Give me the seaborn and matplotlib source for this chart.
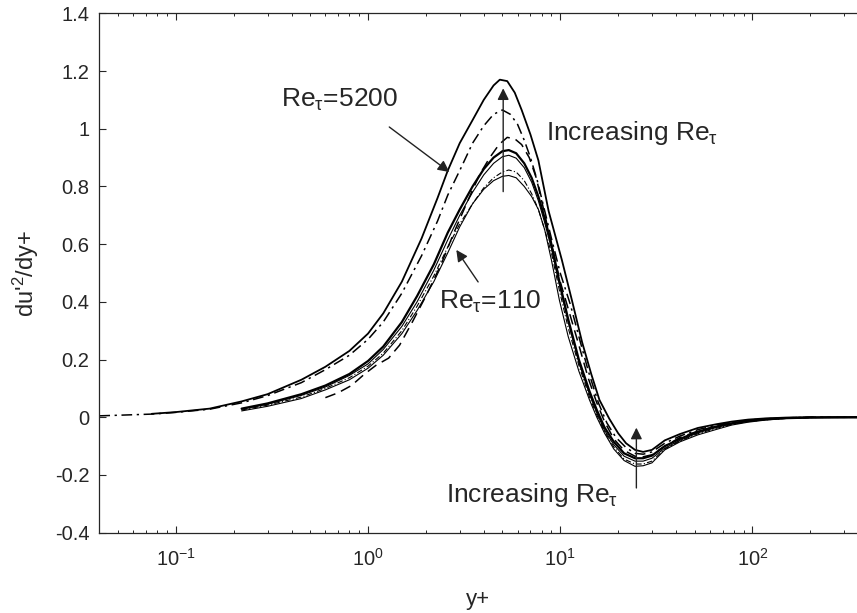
import numpy as np
import pandas as pd
import matplotlib
matplotlib.use("Agg")
import matplotlib.pyplot as plt
import seaborn as sns
from matplotlib.ticker import FixedLocator, FuncFormatter, LogLocator, NullFormatter

# ---------------- data ----------------
# Re_tau = 5200 (outer solid)
xA = [0.075, 0.1, 0.15, 0.22, 0.3, 0.45, 0.6, 0.8, 1.0, 1.2, 1.5, 1.9, 2.3, 2.6, 3.0, 3.5, 4.0, 4.5,
      4.85, 5.3, 5.8, 6.3, 7.0, 7.7, 8.7, 10.2, 11.5, 13, 14.5, 16, 18, 20, 22, 24.5, 27, 30, 35, 42,
      52, 65, 78, 95, 116, 150, 200, 350]
yA = [0.012, 0.018, 0.03, 0.055, 0.08, 0.13, 0.175, 0.23, 0.29, 0.36, 0.47, 0.62, 0.76, 0.855, 0.95,
      1.03, 1.1, 1.15, 1.17, 1.165, 1.125, 1.065, 0.98, 0.89, 0.715, 0.545, 0.406, 0.26, 0.15, 0.06,
      -0.005, -0.055, -0.09, -0.113, -0.12, -0.113, -0.08, -0.058, -0.037, -0.024, -0.015, -0.008,
      -0.004, -0.001, 0.0, 0.0]

# dash-dot, second highest
xB = [0.04, 0.05, 0.075, 0.1, 0.15, 0.22, 0.3, 0.45, 0.6, 0.8, 1.0, 1.2, 1.5, 1.9, 2.3, 2.6, 3.06,
      3.5, 4.0, 4.5, 5.0, 5.5, 6.0, 6.5, 7.0, 7.6, 8.2, 9.0, 10.0, 11.3, 12.5, 14, 15.8, 17.5, 19.5,
      22, 24.5, 27, 30, 35, 42, 52, 65, 78, 95, 116, 150, 200, 350]
yB = [0.005, 0.007, 0.011, 0.017, 0.028, 0.05, 0.075, 0.12, 0.165, 0.215, 0.27, 0.33, 0.43, 0.56,
      0.68, 0.77, 0.867, 0.95, 1.01, 1.05, 1.065, 1.05, 1.015, 0.96, 0.9, 0.82, 0.73, 0.62, 0.5, 0.39,
      0.28, 0.16, 0.05, -0.02, -0.07, -0.105, -0.125, -0.128, -0.12, -0.09, -0.065, -0.043, -0.027,
      -0.017, -0.01, -0.005, -0.002, 0.0, 0.0]

# long dash
xC = [0.6, 0.7, 0.82, 0.96, 1.1, 1.28, 1.46, 1.7, 2.0, 2.4, 2.8, 3.3, 3.8, 4.3, 4.8, 5.3, 5.8, 6.3,
      6.9, 7.5, 8.2, 9.0, 10.0, 11.3, 12.5, 14, 15.5, 17, 19, 21.5, 24.5, 27, 30, 35, 42, 52, 65, 78,
      95, 116, 150, 200, 350]
yC = [0.068, 0.085, 0.11, 0.15, 0.18, 0.205, 0.25, 0.33, 0.42, 0.53, 0.64, 0.75, 0.84, 0.9, 0.945,
      0.97, 0.965, 0.945, 0.9, 0.83, 0.72, 0.6, 0.47, 0.35, 0.25, 0.135, 0.05, -0.015, -0.075, -0.115,
      -0.135, -0.137, -0.13, -0.1, -0.07, -0.048, -0.03, -0.02, -0.012, -0.006, -0.002, 0.0, 0.0]

# lower group: shared y+ grid
xL = [0.22, 0.3, 0.45, 0.6, 0.8, 1.0, 1.2, 1.5, 1.8, 2.2, 2.6, 3.0, 3.5, 4.0, 4.5, 5.0, 5.4, 5.9,
      6.5, 7.1, 7.7, 8.3, 9.0, 9.9, 11, 12.5, 14.2, 15.5, 17, 19, 21.5, 24.5, 27, 30, 35, 42, 52, 65,
      78, 95, 116, 150, 200, 350]
# thick solid
yD = [0.03, 0.048, 0.08, 0.11, 0.15, 0.195, 0.245, 0.33, 0.42, 0.53, 0.64, 0.72, 0.8, 0.86, 0.9,
      0.922, 0.926, 0.915, 0.88, 0.83, 0.765, 0.69, 0.6, 0.47, 0.34, 0.2, 0.09, 0.025, -0.035, -0.085,
      -0.125, -0.142, -0.142, -0.133, -0.1, -0.075, -0.05, -0.032, -0.021, -0.013, -0.007, -0.003,
      -0.001, 0.0]
# thin solid
yE = [0.028, 0.045, 0.076, 0.105, 0.145, 0.185, 0.235, 0.315, 0.4, 0.51, 0.615, 0.7, 0.78, 0.84,
      0.88, 0.903, 0.908, 0.898, 0.865, 0.815, 0.75, 0.675, 0.585, 0.46, 0.33, 0.19, 0.08, 0.015,
      -0.045, -0.095, -0.135, -0.152, -0.152, -0.142, -0.107, -0.08, -0.054, -0.035, -0.023, -0.014,
      -0.008, -0.003, -0.001, 0.0]
# thin dash-dot
yF = [0.025, 0.042, 0.07, 0.1, 0.137, 0.177, 0.222, 0.3, 0.385, 0.49, 0.59, 0.67, 0.74, 0.795,
      0.83, 0.85, 0.857, 0.85, 0.82, 0.775, 0.72, 0.65, 0.57, 0.44, 0.31, 0.18, 0.07, 0.008, -0.05,
      -0.103, -0.145, -0.162, -0.162, -0.152, -0.11, -0.082, -0.057, -0.038, -0.025, -0.015, -0.009,
      -0.004, -0.001, 0.0]
# Re_tau = 110 (lowest thin solid)
yG = [0.022, 0.038, 0.065, 0.095, 0.13, 0.17, 0.215, 0.29, 0.37, 0.47, 0.57, 0.66, 0.74, 0.79,
      0.82, 0.835, 0.838, 0.83, 0.8, 0.765, 0.72, 0.65, 0.545, 0.406, 0.28, 0.16, 0.06, 0.0, -0.055,
      -0.11, -0.15, -0.17, -0.168, -0.158, -0.113, -0.085, -0.061, -0.042, -0.027, -0.017, -0.01,
      -0.004, -0.001, 0.0]

yticks = [-0.4, -0.2, 0, 0.2, 0.4, 0.6, 0.8, 1, 1.2, 1.4]
xticks = [0.1, 1, 10, 100]

series = [
    ("A", xA, yA, dict(lw=1.3, ls="-")),
    ("B", xB, yB, dict(lw=1.1, ls=(0, (7, 3, 1.5, 3)))),
    ("C", xC, yC, dict(lw=1.1, ls=(0, (7, 4)))),
    ("D", xL, yD, dict(lw=1.6, ls="-")),
    ("E", xL, yE, dict(lw=0.8, ls="-")),
    ("F", xL, yF, dict(lw=0.8, ls=(0, (5, 2, 1, 2)))),
    ("G", xL, yG, dict(lw=0.8, ls="-")),
]

# ---------------- style ----------------
sns.set_theme(style="ticks")
plt.rcParams["font.family"] = ["Liberation Sans", "DejaVu Sans"]
plt.rcParams["mathtext.default"] = "regular"
plt.rcParams["axes.unicode_minus"] = False
GREY = "#262626"

fig = plt.figure(figsize=(8.57, 6.13), dpi=100)
ax = fig.add_axes([0.1159, 0.131, 0.8841, 0.8473])

for name, xs, ys, st in series:
    df = pd.DataFrame({"yplus": xs, "val": ys})
    sns.lineplot(data=df, x="yplus", y="val", ax=ax, color="black", linewidth=st["lw"],
                 linestyle=st["ls"], estimator=None, sort=False, legend=False)

ax.set_xscale("log")
ax.set_xlim(0.04, 350)
ax.set_ylim(-0.4, 1.4)
ax.yaxis.set_major_locator(FixedLocator(yticks))
ax.yaxis.set_major_formatter(FuncFormatter(lambda v, p: "%g" % round(v, 2)))
ax.xaxis.set_major_locator(FixedLocator(xticks))
ax.xaxis.set_minor_locator(LogLocator(base=10, subs=np.arange(2, 10), numticks=20))
ax.xaxis.set_minor_formatter(NullFormatter())

for s in ["left", "bottom", "top"]:
    ax.spines[s].set_color(GREY)
    ax.spines[s].set_linewidth(0.9)
ax.spines["right"].set_visible(False)
ax.tick_params(axis="both", which="major", direction="in", length=5, width=0.8, color=GREY,
               labelcolor=GREY, labelsize=14.5, top=True, right=False)
ax.tick_params(axis="x", which="minor", direction="in", length=2.5, width=0.7, color=GREY, top=True)
ax.tick_params(axis="x", which="major", pad=11)
ax.tick_params(axis="y", which="major", pad=7)

ax.set_xlabel("y+", fontsize=16, color=GREY, labelpad=14)
ax.set_ylabel("du'$^{2}$/dy+", fontsize=17, color=GREY, labelpad=10)

# ---------------- annotations ----------------
afs = 19
arw = dict(arrowstyle="-|>", color="#222222", lw=1.0, mutation_scale=17, shrinkA=0, shrinkB=0)
ax.text(0.353, 1.1, r"Re$_{\tau}$=5200", fontsize=afs, color=GREY, ha="left", va="center")
ax.annotate("", xy=(2.65, 0.85), xytext=(1.29, 1.006), arrowprops=arw)
ax.text(2.35, 0.40, r"Re$_{\tau}$=110", fontsize=afs, color=GREY, ha="left", va="center")
ax.annotate("", xy=(2.88, 0.58), xytext=(3.74, 0.469), arrowprops=arw)
ax.text(8.4, 0.985, r"Increasing Re$_{\tau}$", fontsize=afs, color=GREY, ha="left", va="center")
ax.annotate("", xy=(5.05, 1.14), xytext=(5.05, 0.782), arrowprops=arw)
ax.text(2.55, -0.27, r"Increasing Re$_{\tau}$", fontsize=afs, color=GREY, ha="left", va="center")
ax.annotate("", xy=(24.9, -0.036), xytext=(24.9, -0.245), arrowprops=arw)

fig.savefig("out.png", dpi=100)
